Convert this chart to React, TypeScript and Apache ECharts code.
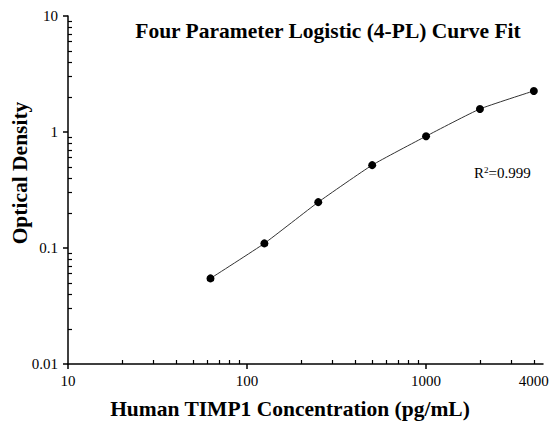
import React, { useEffect, useRef } from "react";
import * as echarts from "echarts";

const concentrations = [62.5, 125, 250, 500, 1000, 2000, 4000];
const opticalDensity = [0.0547, 0.1096, 0.2485, 0.518, 0.92, 1.58, 2.26];
const xMajorTicks = [10, 100, 1000];
const xLabelValues = [10, 100, 1000, 4000];
const xMinorTicks = [20, 30, 40, 50, 60, 70, 80, 90, 200, 300, 400, 500, 600, 700, 800, 900, 2000, 3000, 4000];
const yMajorTicks = [0.01, 0.1, 1, 10];
const yMinorTicks = [
  0.02, 0.03, 0.04, 0.05, 0.06, 0.07, 0.08, 0.09,
  0.2, 0.3, 0.4, 0.5, 0.6, 0.7, 0.8, 0.9,
  2, 3, 4, 5, 6, 7, 8, 9,
];
const titleText = "Four Parameter Logistic (4-PL) Curve Fit";
const xName = "Human TIMP1 Concentration (pg/mL)";
const yName = "Optical Density";
const r2Text = "0.999";

const FONT = "'Liberation Serif', 'Times New Roman', serif";

export default function App() {
  const ref = useRef<HTMLDivElement>(null);
  useEffect(() => {
    if (!ref.current) return;
    const chart = echarts.init(ref.current, undefined, { renderer: "svg" });
    const lineStyle = { color: "#000", width: 1.5 };
    const fmt = (v: number) => String(v);
    chart.setOption({
      animation: false,
      backgroundColor: "#fff",
      title: {
        text: titleText,
        left: 323,
        top: 15,
        textAlign: "center",
        textStyle: { fontFamily: FONT, fontSize: 21.5, fontWeight: "bold", color: "#000" },
      },
      grid: { left: 68, top: 16, right: 15, bottom: 59, containLabel: false, outerBoundsMode: "none" },
      xAxis: [
        {
          type: "log",
          logBase: 10,
          min: 10,
          max: 4500,
          position: "bottom",
          axisLine: { lineStyle },
          axisTick: { customValues: xMajorTicks, length: 5, lineStyle },
          minorTick: { show: false },
          axisLabel: {
            customValues: xLabelValues,
            color: "#000",
            fontFamily: FONT,
            fontSize: 15,
            margin: 9,
            formatter: fmt,
          },
          splitLine: { show: false },
          name: xName,
          nameLocation: "middle",
          nameGap: 34,
          nameMoveOverlap: false,
          nameTextStyle: {
            fontFamily: FONT,
            fontSize: 21.5,
            fontWeight: "bold",
            color: "#000",
            padding: [0, 31, 0, 0],
          },
        },
        {
          type: "log",
          logBase: 10,
          min: 10,
          max: 4500,
          position: "bottom",
          axisLine: { show: false },
          axisTick: { customValues: xMinorTicks, inside: true, length: 4, lineStyle: { color: "#000", width: 1.2 } },
          axisLabel: { show: false },
          splitLine: { show: false },
        },
      ],
      yAxis: [
        {
          type: "log",
          logBase: 10,
          min: 0.01,
          max: 10,
          position: "left",
          axisLine: { lineStyle },
          axisTick: { customValues: yMajorTicks, length: 5, lineStyle },
          axisLabel: {
            customValues: yMajorTicks,
            color: "#000",
            fontFamily: FONT,
            fontSize: 15,
            margin: 10,
            formatter: fmt,
          },
          splitLine: { show: false },
          name: yName,
          nameLocation: "middle",
          nameGap: 37,
          nameMoveOverlap: false,
          nameTextStyle: {
            fontFamily: FONT,
            fontSize: 21.5,
            fontWeight: "bold",
            color: "#000",
            padding: [0, 0, 0, 34],
          },
        },
        {
          type: "log",
          logBase: 10,
          min: 0.01,
          max: 10,
          position: "left",
          axisLine: { show: false },
          axisTick: { customValues: yMinorTicks, inside: true, length: 4, lineStyle: { color: "#000", width: 1.2 } },
          axisLabel: { show: false },
          splitLine: { show: false },
        },
      ],
      graphic: [
        {
          type: "text",
          left: 474,
          top: 165,
          style: {
            text: "{a|R}{s|2}{a|=" + r2Text + "}",
            rich: {
              a: { fontFamily: FONT, fontSize: 15, fill: "#000", lineHeight: 18 },
              s: { fontFamily: FONT, fontSize: 9, fill: "#000", padding: [0, 0, 7, 0], lineHeight: 18 },
            },
          },
        },
      ],
      series: [
        {
          type: "line",
          xAxisIndex: 0,
          yAxisIndex: 0,
          data: concentrations.map((c, i) => [c, opticalDensity[i]]),
          smooth: 0.15,
          symbol: "circle",
          symbolSize: 8,
          itemStyle: { color: "#000" },
          lineStyle: { color: "#333", width: 1 },
          z: 3,
        },
      ],
    });
    return () => chart.dispose();
  }, []);
  return (
    <div
      ref={ref}
      style={{ position: "absolute", left: 0, top: 0, width: 558, height: 423 }}
    />
  );
}
